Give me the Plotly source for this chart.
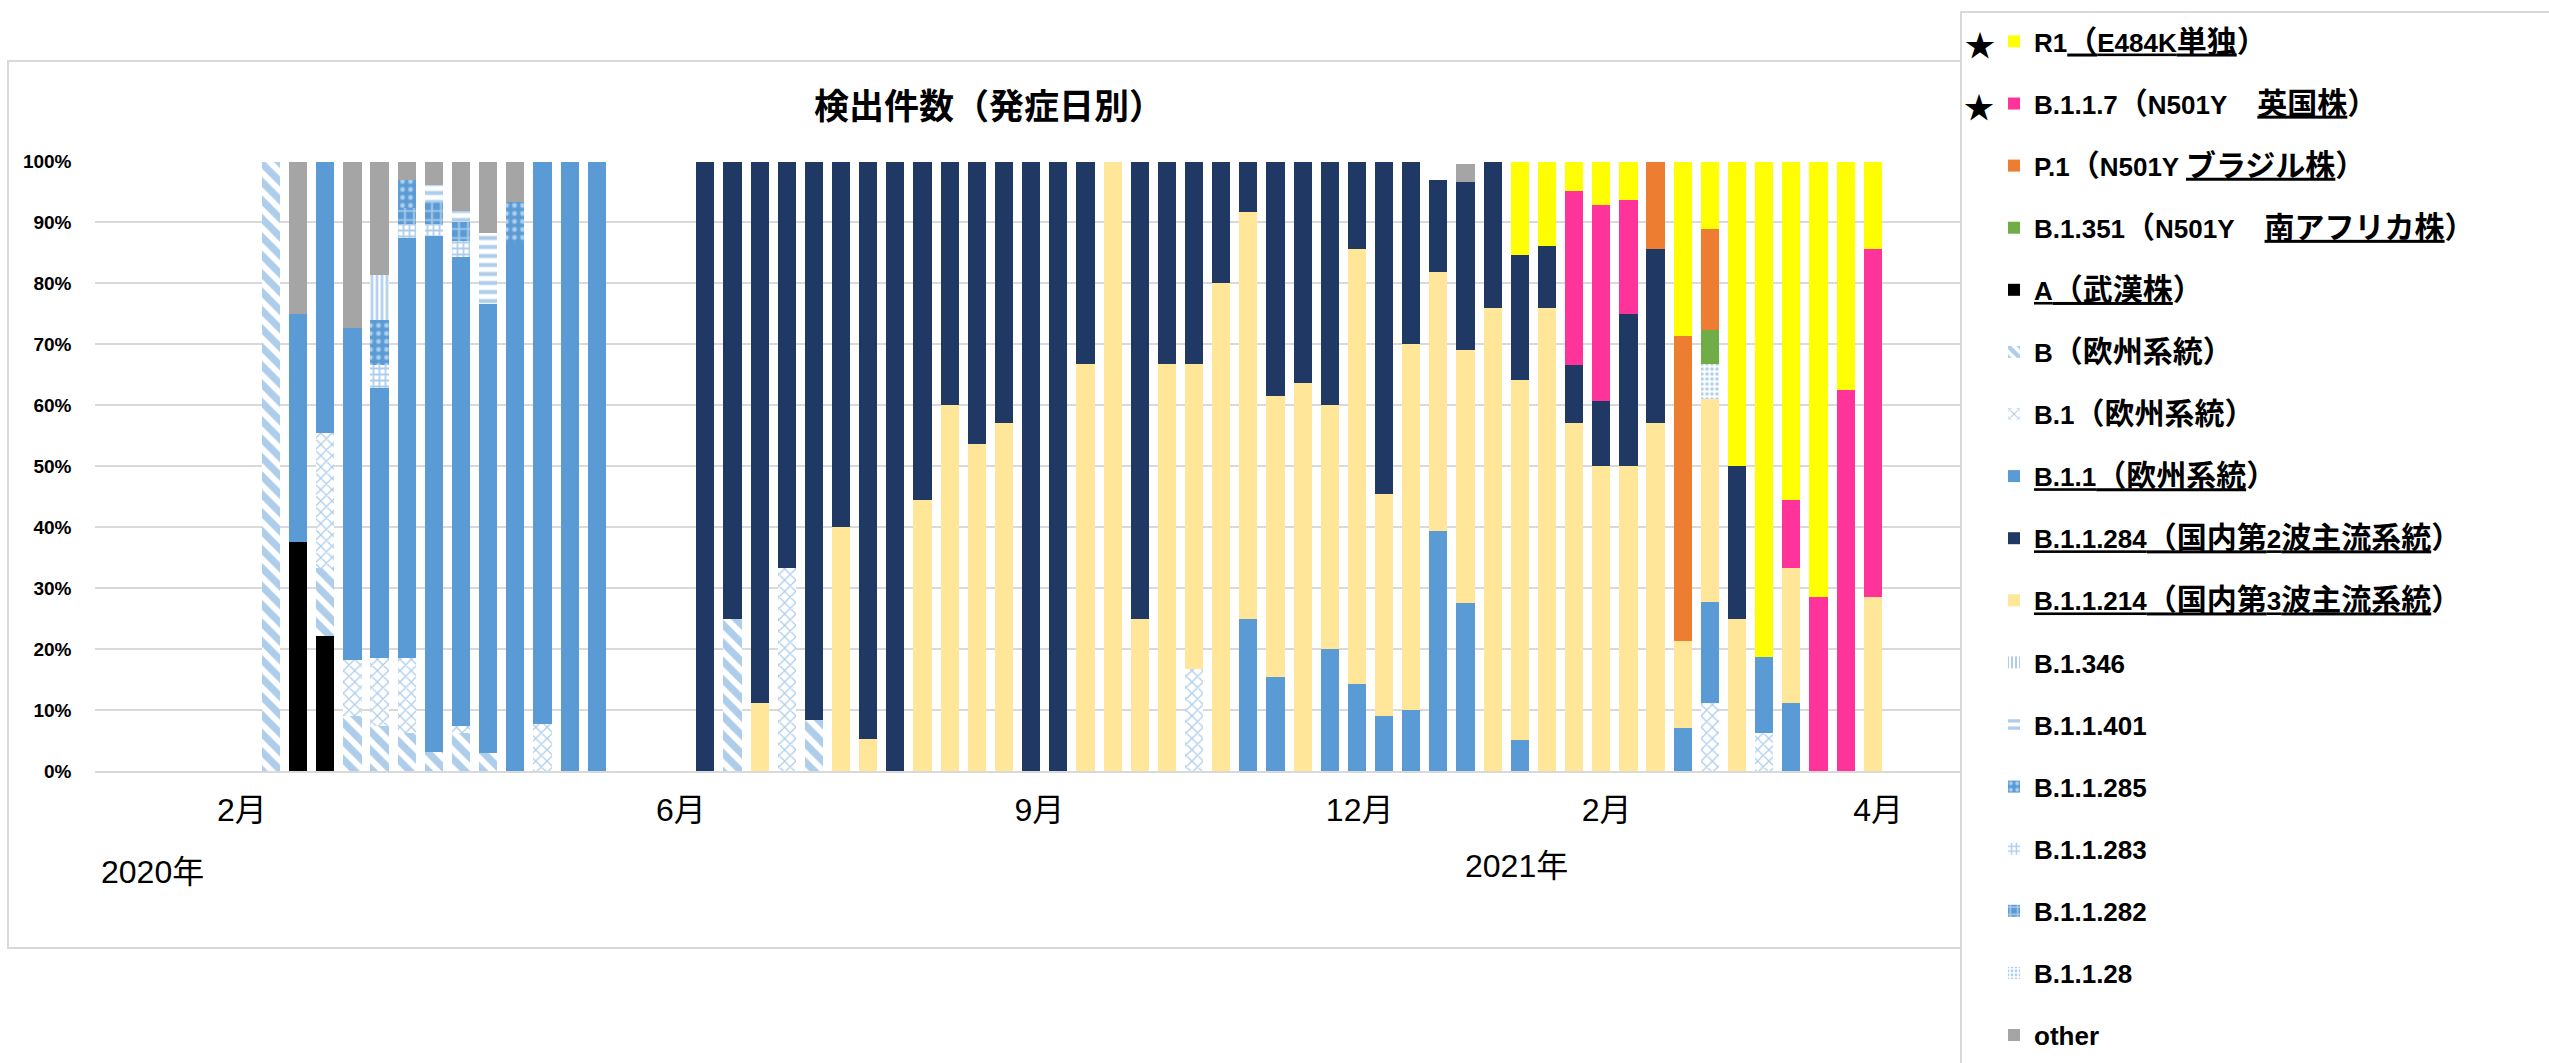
import plotly.graph_objects as go

# ---------------- data (percent of detected cases per onset week) ----------------
# week slot index of each bar (2020-02 .. 2021-04); slots 13-15 have no data
weeks = [0, 1, 2, 3, 4, 5, 6, 7, 8, 9, 10, 11, 12,
         16, 17, 18, 19, 20, 21, 22, 23, 24, 25, 26, 27, 28, 29, 30, 31, 32, 33, 34, 35, 36, 37,
         38, 39, 40, 41, 42, 43, 44, 45, 46, 47, 48, 49, 50, 51, 52, 53, 54, 55, 56, 57, 58, 59]

A_wuhan = [0, 37.5, 22.2, 0, 0, 0, 0, 0, 0, 0, 0, 0, 0,
           0, 0, 0, 0, 0, 0, 0, 0, 0, 0, 0, 0, 0, 0, 0, 0, 0, 0, 0, 0, 0, 0,
           0, 0, 0, 0, 0, 0, 0, 0, 0, 0, 0, 0, 0, 0, 0, 0, 0, 0, 0, 0, 0, 0]
B_eu = [100, 0, 11.1, 9.1, 7.4, 6.2, 3.1, 6.2, 3.0, 0, 0, 0, 0,
        0, 25, 0, 0, 8.3, 0, 0, 0, 0, 0, 0, 0, 0, 0, 0, 0, 0, 0, 0, 0, 0, 0,
        0, 0, 0, 0, 0, 0, 0, 0, 0, 0, 0, 0, 0, 0, 0, 0, 0, 0, 0, 0, 0, 0]
B1_eu = [0, 0, 22.2, 9.1, 11.1, 12.4, 0, 1.2, 0, 0, 7.7, 0, 0,
         0, 0, 0, 33.3, 0, 0, 0, 0, 0, 0, 0, 0, 0, 0, 0, 0, 0, 0, 16.7, 0, 0, 0,
         0, 0, 0, 0, 0, 0, 0, 0, 0, 0, 0, 0, 0, 0, 0, 11.1, 0, 6.25, 0, 0, 0, 0]
B11_eu = [0, 37.5, 44.4, 54.5, 44.4, 68.9, 84.6, 77.0, 73.6, 86.7, 92.3, 100, 100,
          0, 0, 0, 0, 0, 0, 0, 0, 0, 0, 0, 0, 0, 0, 0, 0, 0, 0, 0, 0, 25, 15.4,
          0, 20, 14.3, 9.1, 10, 39.4, 27.6, 0, 5.1, 0, 0, 0, 0, 0, 7.1, 16.7, 0, 12.5, 11.1, 0, 0, 0]
B11214 = [0, 0, 0, 0, 0, 0, 0, 0, 0, 0, 0, 0, 0,
          0, 0, 11.1, 0, 0, 40, 5.3, 0, 44.4, 60, 53.6, 57.1, 0, 0, 66.7, 100, 25, 66.7, 50, 80, 66.7, 46.2,
          63.6, 40, 71.4, 36.4, 60, 42.4, 41.4, 75.9, 59.0, 75.9, 57.1, 50, 50, 57.1, 14.3, 33.3, 25, 0, 22.2, 0, 0, 28.6]
B11284 = [0, 0, 0, 0, 0, 0, 0, 0, 0, 0, 0, 0, 0,
          100, 75, 88.9, 66.7, 91.7, 60, 94.7, 100, 55.6, 40, 46.4, 42.9, 100, 100, 33.3, 0, 75, 33.3, 33.3, 20, 8.3, 38.4,
          36.4, 40, 14.3, 54.5, 30, 15.2, 27.6, 24.1, 20.5, 10.3, 9.5, 10.7, 25, 28.6, 0, 0, 25, 0, 0, 0, 0, 0]
B1128 = [0, 0, 0, 0, 0, 0, 0, 0, 0, 0, 0, 0, 0,
         0, 0, 0, 0, 0, 0, 0, 0, 0, 0, 0, 0, 0, 0, 0, 0, 0, 0, 0, 0, 0, 0,
         0, 0, 0, 0, 0, 0, 0, 0, 0, 0, 0, 0, 0, 0, 0, 5.6, 0, 0, 0, 0, 0, 0]
B1351 = [0, 0, 0, 0, 0, 0, 0, 0, 0, 0, 0, 0, 0,
         0, 0, 0, 0, 0, 0, 0, 0, 0, 0, 0, 0, 0, 0, 0, 0, 0, 0, 0, 0, 0, 0,
         0, 0, 0, 0, 0, 0, 0, 0, 0, 0, 0, 0, 0, 0, 0, 5.6, 0, 0, 0, 0, 0, 0]
P1 = [0, 0, 0, 0, 0, 0, 0, 0, 0, 0, 0, 0, 0,
      0, 0, 0, 0, 0, 0, 0, 0, 0, 0, 0, 0, 0, 0, 0, 0, 0, 0, 0, 0, 0, 0,
      0, 0, 0, 0, 0, 0, 0, 0, 0, 0, 0, 0, 0, 14.3, 50, 16.7, 0, 0, 0, 0, 0, 0]
B117 = [0, 0, 0, 0, 0, 0, 0, 0, 0, 0, 0, 0, 0,
        0, 0, 0, 0, 0, 0, 0, 0, 0, 0, 0, 0, 0, 0, 0, 0, 0, 0, 0, 0, 0, 0,
        0, 0, 0, 0, 0, 0, 0, 0, 0, 0, 28.6, 32.1, 18.75, 0, 0, 0, 0, 0, 11.1, 28.6, 62.5, 57.1]
R1 = [0, 0, 0, 0, 0, 0, 0, 0, 0, 0, 0, 0, 0,
      0, 0, 0, 0, 0, 0, 0, 0, 0, 0, 0, 0, 0, 0, 0, 0, 0, 0, 0, 0, 0, 0,
      0, 0, 0, 0, 0, 0, 0, 0, 15.4, 13.8, 4.8, 7.2, 6.25, 0, 28.6, 11.0, 50, 81.25, 55.6, 71.4, 37.5, 14.3]
B11283 = [0, 0, 0, 0, 3.7, 2.2, 2.0, 2.6, 0, 0, 0, 0, 0,
          0, 0, 0, 0, 0, 0, 0, 0, 0, 0, 0, 0, 0, 0, 0, 0, 0, 0, 0, 0, 0, 0,
          0, 0, 0, 0, 0, 0, 0, 0, 0, 0, 0, 0, 0, 0, 0, 0, 0, 0, 0, 0, 0, 0]
B11282 = [0, 0, 0, 0, 0, 2.6, 3.6, 3.1, 0, 0, 0, 0, 0,
          0, 0, 0, 0, 0, 0, 0, 0, 0, 0, 0, 0, 0, 0, 0, 0, 0, 0, 0, 0, 0, 0,
          0, 0, 0, 0, 0, 0, 0, 0, 0, 0, 0, 0, 0, 0, 0, 0, 0, 0, 0, 0, 0, 0]
B11285 = [0, 0, 0, 0, 7.4, 4.7, 0, 0, 0, 6.6, 0, 0, 0,
          0, 0, 0, 0, 0, 0, 0, 0, 0, 0, 0, 0, 0, 0, 0, 0, 0, 0, 0, 0, 0, 0,
          0, 0, 0, 0, 0, 0, 0, 0, 0, 0, 0, 0, 0, 0, 0, 0, 0, 0, 0, 0, 0, 0]
B1346 = [0, 0, 0, 0, 7.4, 0, 0, 0, 0, 0, 0, 0, 0,
         0, 0, 0, 0, 0, 0, 0, 0, 0, 0, 0, 0, 0, 0, 0, 0, 0, 0, 0, 0, 0, 0,
         0, 0, 0, 0, 0, 0, 0, 0, 0, 0, 0, 0, 0, 0, 0, 0, 0, 0, 0, 0, 0, 0]
B11401 = [0, 0, 0, 0, 0, 0, 2.8, 1.7, 11.6, 0, 0, 0, 0,
          0, 0, 0, 0, 0, 0, 0, 0, 0, 0, 0, 0, 0, 0, 0, 0, 0, 0, 0, 0, 0, 0,
          0, 0, 0, 0, 0, 0, 0, 0, 0, 0, 0, 0, 0, 0, 0, 0, 0, 0, 0, 0, 0, 0]
other = [0, 25, 0, 27.3, 18.5, 3.0, 3.9, 8.2, 11.8, 6.7, 0, 0, 0,
         0, 0, 0, 0, 0, 0, 0, 0, 0, 0, 0, 0, 0, 0, 0, 0, 0, 0, 0, 0, 0, 0,
         0, 0, 0, 0, 0, 0, 3.0, 3.4, 0, 0, 0, 0, 0, 0, 0, 0, 0, 0, 0, 0, 0, 0]

# legend labels
lbl_R1 = "R1<u>（E484K単独</u>）"
lbl_B117 = "B.1.1.7（N501Y　<u>英国株</u>）"
lbl_P1 = "P.1（N501Y <u>ブラジル株</u>）"
lbl_B1351 = "B.1.351（N501Y　<u>南アフリカ株</u>）"
lbl_A = "<u>A（武漢株</u>）"
lbl_B = "B（欧州系統）"
lbl_B1 = "B.1（欧州系統）"
lbl_B11 = "<u>B.1.1（欧州系統</u>）"
lbl_284 = "<u>B.1.1.284（国内第2波主流系統</u>）"
lbl_214 = "<u>B.1.1.214（国内第3波主流系統</u>）"
lbl_346 = "B.1.346"
lbl_401 = "B.1.1.401"
lbl_285 = "B.1.1.285"
lbl_283 = "B.1.1.283"
lbl_282 = "B.1.1.282"
lbl_28 = "B.1.1.28"
lbl_other = "other"

month_labels = ["2月", "6月", "9月", "12月", "2月", "4月"]
month_pos = [-1.07, 15.1, 28.3, 40.1, 49.2, 59.2]   # tick positions in week-slot units

# ---------------- styles ----------------
BLUE = "#5B9BD5"
W, H = 2549, 1063


def px_x(p):
    return p / W


def px_y(p):
    return 1 - p / H


def cjk_sized(s, size=30):
    """Render runs of full-width (CJK) characters a little larger, as in the original legend."""
    out, run, i = [], "", 0

    def flush():
        nonlocal run
        if run:
            out.append("<span style='font-size:%dpx'>%s</span>" % (size, run))
            run = ""

    while i < len(s):
        ch = s[i]
        if ch == "<":
            flush()
            j = s.index(">", i)
            out.append(s[i:j + 1])
            i = j + 1
            continue
        if ord(ch) >= 0x3000:
            run += ch
        else:
            flush()
            out.append(ch)
        i += 1
    flush()
    return "".join(out)


def pat(shape, fg, bg, size, solidity):
    return dict(shape=shape, fgcolor=fg, bgcolor=bg, size=size, solidity=solidity, fillmode="overlay")


# (values, label, legend rank, marker)  -- stacking order bottom -> top
traces = [
    (A_wuhan, lbl_A, 5, dict(color="#000000")),
    (B_eu, lbl_B, 6, dict(color="white", pattern=pat("\\", BLUE, "white", 13, 0.55))),
    (B1_eu, lbl_B1, 7, dict(color="white", pattern=pat("x", BLUE, "white", 8, 0.3))),
    (B11_eu, lbl_B11, 8, dict(color=BLUE)),
    (B11214, lbl_214, 10, dict(color="#FFE699")),
    (B11284, lbl_284, 9, dict(color="#203864")),
    (B1128, lbl_28, 16, dict(color="white", pattern=pat(".", BLUE, "white", 5, 0.4))),
    (B1351, lbl_B1351, 4, dict(color="#70AD47")),
    (P1, lbl_P1, 3, dict(color="#ED7D31")),
    (B117, lbl_B117, 2, dict(color="#FF3399")),
    (R1, lbl_R1, 1, dict(color="#FFFF00")),
    (B11283, lbl_283, 14, dict(color="white", pattern=pat("+", BLUE, "white", 6, 0.5))),
    (B11282, lbl_282, 15, dict(color=BLUE, pattern=pat("+", "white", BLUE, 9, 0.35))),
    (B11285, lbl_285, 13, dict(color=BLUE, pattern=pat(".", "white", BLUE, 8, 0.3))),
    (B1346, lbl_346, 11, dict(color="white", pattern=pat("|", BLUE, "white", 5, 0.5))),
    (B11401, lbl_401, 12, dict(color="white", pattern=pat("-", BLUE, "white", 9, 0.45))),
    (other, lbl_other, 17, dict(color="#A5A5A5")),
]

fig = go.Figure()
for i, (vals, label, rank, marker) in enumerate(traces):
    m = dict(marker)
    m["line"] = dict(width=0)
    fig.add_trace(go.Bar(
        x=weeks, y=vals, name=cjk_sized(label), marker=m,
        legendrank=rank, legendgroup="g%d" % i,
        hovertemplate="%{y}%<extra>" + label + "</extra>",
    ))

FONT = "Arial, 'Liberation Sans', 'Noto Sans CJK JP', sans-serif"

fig.update_layout(
    width=W, height=H,
    margin=dict(l=0, r=0, t=0, b=0, autoexpand=False),
    paper_bgcolor="white", plot_bgcolor="white",
    font=dict(family=FONT, color="#000000"),
    barmode="stack", bargap=0.33,
    title=dict(text="<b>検出件数（発症日別）</b>", x=px_x(989), y=px_y(107),
               xanchor="center", yanchor="middle", xref="paper", yref="container",
               font=dict(size=35, family=FONT, color="#000000")),
    xaxis=dict(domain=[px_x(94.5), px_x(1961)], range=[-6.5, 62.25],
               tickmode="array", tickvals=month_pos, ticktext=month_labels,
               showgrid=False, zeroline=False, showline=True, linecolor="#D9D9D9", linewidth=2,
               ticks="", tickfont=dict(size=32, family=FONT), ticklabelstandoff=10),
    yaxis=dict(domain=[px_y(771), px_y(161.5)], range=[0, 100], dtick=10, ticksuffix="%",
               showgrid=True, gridcolor="#D9D9D9", gridwidth=2, zeroline=False, showline=False,
               ticks="", tickfont=dict(size=19, family=FONT, weight="bold"), ticklabelstandoff=22),
    legend=dict(x=px_x(1994), y=px_y(18), xanchor="left", yanchor="top",
                xref="paper", yref="paper",
                font=dict(size=26, family=FONT, weight="bold", color="#000000"),
                bgcolor="rgba(0,0,0,0)", borderwidth=0, tracegroupgap=25.3,
                traceorder="grouped", maxheight=1200),
    shapes=[
        dict(type="rect", xref="paper", yref="paper", x0=px_x(8), x1=px_x(1961),
             y0=px_y(948), y1=px_y(61), line=dict(color="#D9D9D9", width=2), layer="below"),
        dict(type="rect", xref="paper", yref="paper", x0=px_x(1961), x1=px_x(2580),
             y0=px_y(1080), y1=px_y(12), line=dict(color="#D9D9D9", width=2),
             fillcolor="white", layer="above"),
    ],
    annotations=[
        dict(text="2020年", x=px_x(152), y=px_y(872), xref="paper", yref="paper",
             xanchor="center", yanchor="middle",
             showarrow=False, font=dict(size=32, family=FONT)),
        dict(text="2021年", x=px_x(1516), y=px_y(866), xref="paper", yref="paper",
             xanchor="center", yanchor="middle",
             showarrow=False, font=dict(size=32, family=FONT)),
        dict(text="★", x=px_x(1980), y=px_y(45), xref="paper", yref="paper",
             xanchor="center", yanchor="middle",
             showarrow=False, font=dict(size=30, family=FONT)),
        dict(text="★", x=px_x(1979), y=px_y(107), xref="paper", yref="paper",
             xanchor="center", yanchor="middle",
             showarrow=False, font=dict(size=30, family=FONT)),
    ],
)

# the page's default 8px body margin would offset the whole chart
fig.write_html("out.html", config={"displayModeBar": False},
               post_script="document.body.style.margin='0';")
